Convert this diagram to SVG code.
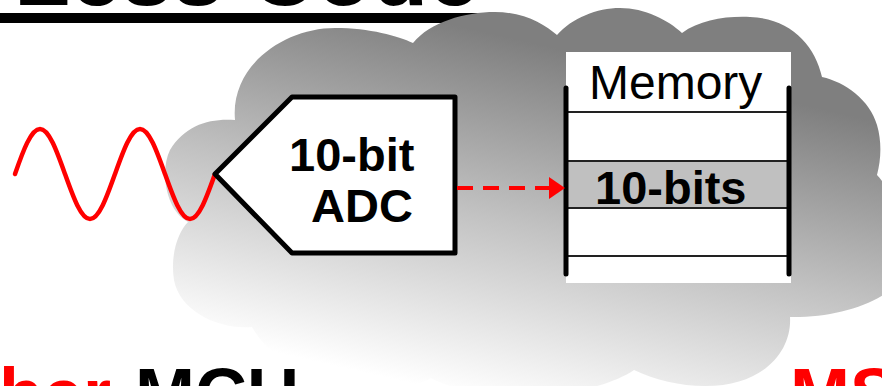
<svg xmlns="http://www.w3.org/2000/svg" width="882" height="386" viewBox="0 0 882 386">
<style>
.bold{font-family:"Liberation Sans",Arial,sans-serif;font-weight:bold}
.reg{font-family:"Liberation Sans",Arial,sans-serif}
.row{stroke:#222;stroke-width:2}
.rail{stroke:#000;stroke-width:5;stroke-linecap:round}
</style>
<defs>
<linearGradient id="cg" gradientUnits="userSpaceOnUse" x1="520" y1="40" x2="440" y2="390">
<stop offset="0" stop-color="#7f7f7f"/>
<stop offset="0.5" stop-color="#c2c2c2"/>
<stop offset="1" stop-color="#ffffff"/>
</linearGradient>
<marker id="ah" markerUnits="userSpaceOnUse" markerWidth="16" markerHeight="24" refX="0" refY="12" orient="auto">
<path d="M0,1 L16,12 L0,23 z" fill="#ff0000"/>
</marker>
</defs>
<rect width="882" height="386" fill="#ffffff"/>
<g id="title">
<text class="bold" x="14" y="5" font-size="92" fill="#000">Less Code</text>
<rect x="0" y="13" width="500" height="10" fill="#000"/>
</g>
<g id="cloud">
<path fill="url(#cg)" d="M235,120 C230,65 285,28 335,28 C370,28 398,36 413,43 C430,22 465,12 495,12 C525,12 545,25 557,35 C572,18 597,8 620,8 C645,8 668,20 682,33 C700,20 725,16 750,17 C790,18 815,45 822,77 C845,82 870,100 877,125 C882,142 881,160 877,175 C895,195 915,230 905,270 C895,300 840,318 790,317 C792,350 765,386 705,386 C680,386 655,380 634,370 C590,400 480,405 431,378 C410,392 330,394 300,372 C280,360 262,345 252,327 C220,330 180,312 174,280 C170,255 178,232 188,222 C165,210 160,170 170,150 C185,125 210,118 235,120 Z"/>
</g>
<g id="wave">
<path d="M15,174 C23,151 31,129 40,129 S56.8,151 65,174 S81,219 90,219 S106.8,197 115,174 S131,129 140,129 S156.8,151 165,174 S181,219 190,219 S206.8,197 215,174" fill="none" stroke="#ff0000" stroke-width="4.5" stroke-linecap="round"/>
</g>
<g id="adc">
<polygon points="215,174 292,97 455,97 455,253 292,253" fill="#fff" stroke="#000" stroke-width="5" stroke-linejoin="round"/>
<text class="bold" x="289" y="171" font-size="47">10-bit</text>
<text class="bold" x="311" y="222" font-size="47">ADC</text>
</g>
<g id="memory">
<rect x="566" y="52" width="225" height="231" fill="#fff"/>
<rect x="566" y="161" width="223" height="47" fill="#c0c0c0"/>
<line class="row" x1="566" y1="112" x2="789" y2="112"/>
<line class="row" x1="566" y1="161" x2="789" y2="161"/>
<line class="row" x1="566" y1="208" x2="789" y2="208"/>
<line class="row" x1="566" y1="256" x2="789" y2="256"/>
<line class="rail" x1="566" y1="88" x2="566" y2="274"/>
<line class="rail" x1="789" y1="88" x2="789" y2="274"/>
<text class="reg" x="589" y="99" font-size="48">Memory</text>
<text class="bold" x="595" y="204" font-size="47">10-bits</text>
</g>
<g id="connectors">
<line x1="457" y1="188" x2="549" y2="188" stroke="#ff0000" stroke-width="4" stroke-dasharray="16 10" marker-end="url(#ah)"/>
</g>
<g id="footer">
<text class="bold" x="-1" y="419" font-size="72"><tspan fill="#ff0000">ber</tspan><tspan fill="#000" x="135">MCU</tspan></text>
<text class="bold" x="790" y="419" font-size="72" fill="#ff0000">MS</text>
</g>
</svg>
